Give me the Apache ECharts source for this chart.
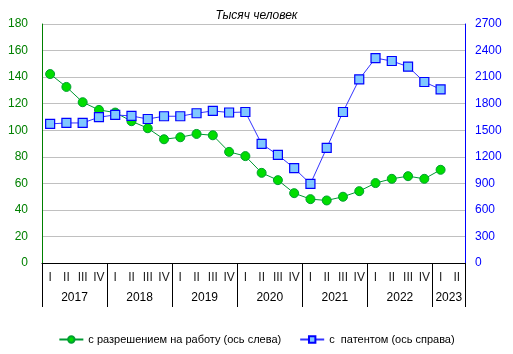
<!DOCTYPE html>
<html>
<head>
<meta charset="utf-8">
<script src="https://cdn.jsdelivr.net/npm/echarts@6/dist/echarts.min.js"></script>
<style>
  html, body { margin: 0; padding: 0; background: #fff; }
  #main { width: 513px; height: 354px; }
</style>
</head>
<body>
<div id="main"></div>
<script>
// quarters 2017 Q1 .. 2023 Q2
const quarters = ['I','II','III','IV', 'I','II','III','IV', 'I','II','III','IV',
  'I','II','III','IV', 'I','II','III','IV', 'I','II','III','IV', 'I','II'];
const years = ['2017', '2018', '2019', '2020', '2021', '2022', '2023'];
const yearBounds = [0, 4, 8, 12, 16, 20, 24, 26];
const yearCenters = [2, 6, 10, 14, 18, 22, 25];

// thousand people
const workPermit = [142.3, 132.6, 121.1, 115.3, 113.3, 106.8, 101.5, 93.2, 94.7, 97.2, 96.2, 83.7,
  80.5, 67.9, 62.4, 52.6, 48.1, 47.1, 49.9, 54.1, 60.2, 63.4, 65.4, 63.4, 70.2, null];
const patent = [1571, 1582, 1582, 1647, 1673, 1661, 1627, 1658, 1658, 1692, 1718, 1700, 1706,
  1345, 1221, 1071, 894, 1300, 1706, 2075, 2315, 2282, 2218, 2045, 1962, null];

const font = 'Liberation Sans, Arial, sans-serif';

var myChart = echarts.init(document.getElementById('main'));

myChart.setOption({
  backgroundColor: '#fff',
  animation: false,
  textStyle: {fontFamily: font},
  title: {
    text: 'Тысяч человек',
    left: 'center',
    top: 5,
    textStyle: {fontSize: 12, fontStyle: 'italic', fontWeight: 'normal', color: '#000', fontFamily: font}
  },
  legend: {
    bottom: 4,
    left: 'center',
    itemWidth: 24,
    itemHeight: 8,
    itemGap: 18,
    textStyle: {fontSize: 11, color: '#000', fontFamily: font},
    data: ['с разрешением на работу (ось слева)', 'с  патентом (ось справа)']
  },
  grid: {left: 42, right: 48, top: 24, bottom: 91},
  xAxis: [
    {
      type: 'category',
      data: quarters,
      boundaryGap: true,
      axisLine: {lineStyle: {color: '#000', width: 1}},
      axisTick: {show: false},
      axisLabel: {interval: 0, fontSize: 12, color: '#222', margin: 9}
    },
    {
      type: 'value',
      position: 'bottom',
      min: 0,
      max: 26,
      axisLine: {show: false},
      splitLine: {show: false},
      axisTick: {
        show: true,
        length: 44,
        customValues: yearBounds,
        lineStyle: {color: '#000', width: 1}
      },
      axisLabel: {
        customValues: yearCenters,
        fontSize: 12,
        color: '#000',
        margin: 29,
        formatter: function (v) {
          return years[yearCenters.indexOf(v)];
        }
      }
    }
  ],
  yAxis: [
    {
      type: 'value',
      min: 0,
      max: 180,
      interval: 20,
      axisLine: {show: true, lineStyle: {color: '#008000', width: 1}},
      axisTick: {show: false},
      axisLabel: {color: '#008000', fontSize: 12, margin: 14},
      splitLine: {lineStyle: {color: '#c0c0c0', width: 1}}
    },
    {
      type: 'value',
      min: 0,
      max: 2700,
      interval: 300,
      position: 'right',
      axisLine: {show: true, lineStyle: {color: '#0000ff', width: 1}},
      axisTick: {show: false},
      axisLabel: {color: '#0000ff', fontSize: 12, margin: 10, formatter: function (v) { return String(v); }},
      splitLine: {show: false}
    }
  ],
  series: [
    {
      name: 'с разрешением на работу (ось слева)',
      type: 'line',
      xAxisIndex: 0,
      yAxisIndex: 0,
      data: workPermit,
      symbol: 'circle',
      symbolSize: 9,
      lineStyle: {color: '#009933', width: 1},
      itemStyle: {color: '#00dd00', borderColor: '#00a030', borderWidth: 1}
    },
    {
      name: 'с  патентом (ось справа)',
      type: 'line',
      xAxisIndex: 0,
      yAxisIndex: 1,
      data: patent,
      symbol: 'rect',
      symbolSize: 9,
      lineStyle: {color: '#3333ff', width: 1},
      itemStyle: {color: '#80c8ff', borderColor: '#0000ff', borderWidth: 1.2}
    }
  ]
});
</script>
</body>
</html>
